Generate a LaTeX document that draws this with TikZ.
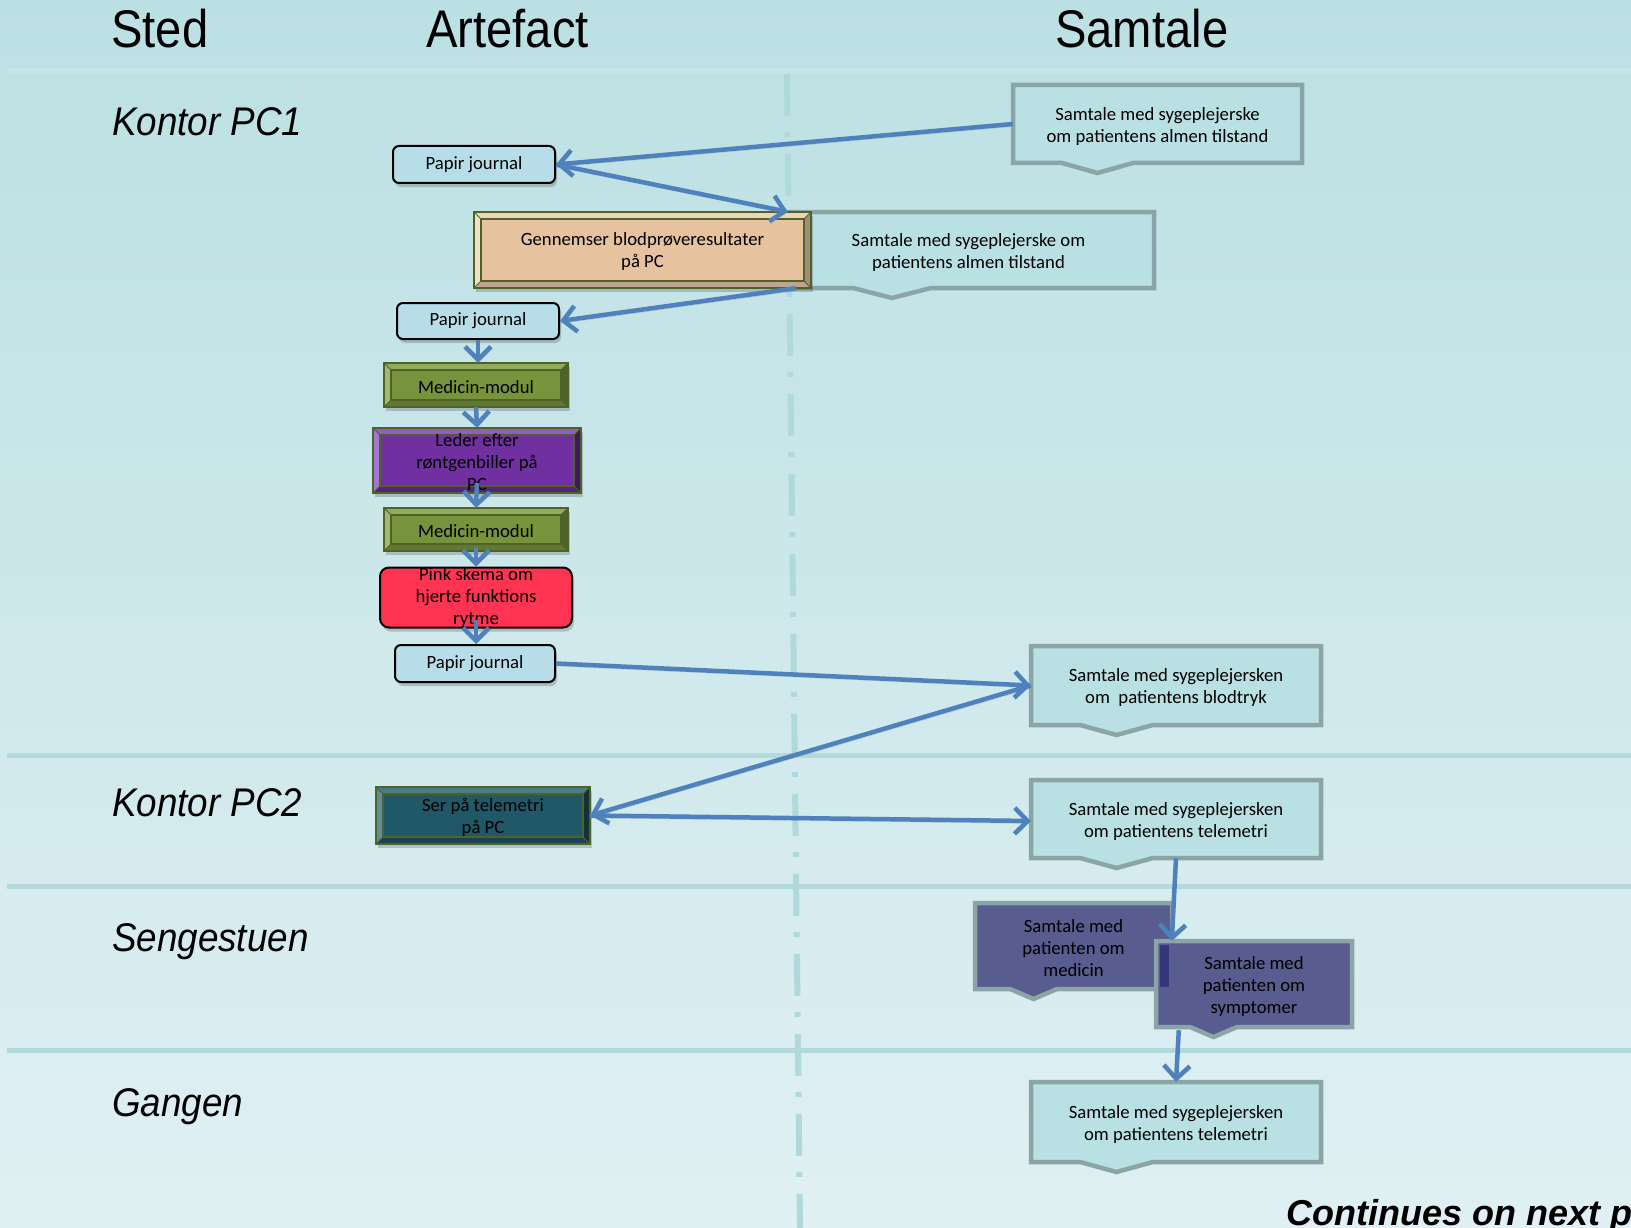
\documentclass[tikz,border=0pt]{standalone}
\usepackage{fontspec}
\setmainfont{Carlito}
\newfontfamily\hdrfont[FakeStretch=0.89]{Liberation Sans}
\newfontfamily\lanefont[FakeStretch=0.92]{Liberation Sans}
\newfontfamily\footfont{Liberation Sans}
\usetikzlibrary{arrows.meta,calc}

\definecolor{bgtop}{HTML}{BBE0E3}
\definecolor{bgbot}{HTML}{E0F0F3}
\definecolor{toplane}{HTML}{C6E5E7}
\definecolor{laneline}{HTML}{B2DADD}
\definecolor{vline}{HTML}{B0D9DC}
\definecolor{callfill}{HTML}{B9E0E3}
\definecolor{callborder}{HTML}{8BA5A6}
\definecolor{slate}{HTML}{585C8E}
\definecolor{slatedark}{HTML}{34377A}
\definecolor{pjfill}{HTML}{B7DEE8}
\definecolor{pinkfill}{HTML}{FF3352}
\definecolor{olive}{HTML}{4F6228}
\definecolor{arrowblue}{HTML}{4F81BD}
\definecolor{peach}{HTML}{E6C29F}
\definecolor{peachlight}{HTML}{F3DEC6}
\definecolor{peachdark}{HTML}{A08C7C}
\definecolor{medgreen}{HTML}{77933C}
\definecolor{medlight}{HTML}{A0B96A}
\definecolor{meddark}{HTML}{4F6228}
\definecolor{purp}{HTML}{7030A0}
\definecolor{purplight}{HTML}{A674D2}
\definecolor{purpdark}{HTML}{3E1A5A}
\definecolor{tealbox}{HTML}{215868}
\definecolor{teallight}{HTML}{5E8E9A}
\definecolor{tealdark}{HTML}{12323A}

\tikzset{
  ctext/.style={inner sep=0pt, align=center, text=black, font=\fontsize{18.7}{22}\selectfont},
  callline/.style={draw=callborder, line width=4.5pt, line join=miter},
  pjbox/.style={ctext, draw=black, line width=2pt, fill=pjfill, rounded corners=6pt,
    preaction={fill=black, opacity=.18, transform canvas={shift={(2pt,-4pt)}}}},
  pinkbox/.style={ctext, draw=black, line width=2pt, fill=pinkfill, rounded corners=9pt,
    preaction={fill=black, opacity=.18, transform canvas={shift={(2pt,-4pt)}}}},
  flow/.style={draw=arrowblue, line width=4.5pt, -{Straight Barb[length=13pt,width=26pt]},
    preaction={draw=black!45, opacity=.35, transform canvas={shift={(1pt,-2.5pt)}}}},
  hline/.style={line width=5pt},
  header/.style={anchor=base west, inner sep=0pt, font=\hdrfont\fontsize{53}{60}\selectfont},
  lane/.style={anchor=base west, inner sep=0pt, font=\lanefont\itshape\fontsize{40}{46}\selectfont},
}

% #1 name, #2 fill, #3 left, #4 top, #5 right, #6 bottom, #7 pointer start x, #8 pointer end x, #9 text
\newcommand{\mkcallout}[9]{%
  \draw[callline, fill=#2] (#3,#4) -- (#5,#4) -- (#5,#6) -- (#8,#6) -- ({(#7+#8)/2},{#6+10}) -- (#7,#6) -- (#3,#6) -- cycle;
  \node[inner sep=0pt, minimum width={#5-#3}, minimum height={#6-#4}] (#1) at ({(#3+#5)/2},{(#4+#6)/2}) {};
  \node[ctext] (#1-t) at ({(#3+#5)/2},{(#4+#6)/2+2.5}) {#9};}

% #1 name, #2 left, #3 top, #4 right, #5 bottom, #6 base, #7 light, #8 dark, #9 text
\newcommand{\mkbevel}[9]{%
  \fill[black, opacity=.18] ({#2+2},{#3+4}) rectangle ({#4+2},{#5+4});
  \fill[#6] (#2,#3) rectangle (#4,#5);
  \fill[#7!65!#6] (#2,#3) -- (#4,#3) -- ({#4-7},{#3+7}) -- ({#2+7},{#3+7}) -- cycle;
  \fill[#7] (#2,#3) -- ({#2+7},{#3+7}) -- ({#2+7},{#5-7}) -- (#2,#5) -- cycle;
  \fill[#8] (#4,#3) -- (#4,#5) -- ({#4-7},{#5-7}) -- ({#4-7},{#3+7}) -- cycle;
  \fill[#8!55!#6] (#2,#5) -- (#4,#5) -- ({#4-7},{#5-7}) -- ({#2+7},{#5-7}) -- cycle;
  \draw[olive, line width=1.3pt] ({#2+7},{#3+7}) rectangle ({#4-7},{#5-7});
  \draw[olive, line width=0.8pt] (#2,#3) -- ({#2+7},{#3+7}) (#4,#3) -- ({#4-7},{#3+7})
     (#2,#5) -- ({#2+7},{#5-7}) (#4,#5) -- ({#4-7},{#5-7});
  \draw[olive, line width=2.5pt] (#2,#3) rectangle (#4,#5);
  \node[inner sep=0pt, minimum width={#4-#2}, minimum height={#5-#3}] (#1) at ({(#2+#4)/2},{(#3+#5)/2}) {};
  \node[ctext] (#1-t) at ({(#2+#4)/2},{(#3+#5)/2+2}) {#9};}

\begin{document}
\begin{tikzpicture}[x=1pt, y=-1pt]
\useasboundingbox (0,0) rectangle (1631,1228);
\clip (0,0) rectangle (1631,1228);
\shade[top color=bgtop, bottom color=bgbot] (0,0) rectangle (1631,1228);

% lane lines
\draw[hline, toplane] (7,71) -- (1631,71);
\draw[hline, laneline] (7,755) -- (1631,755);
\draw[hline, laneline] (7,886) -- (1631,886);
\draw[hline, laneline] (7,1050) -- (1631,1050);
\draw[vline, line width=6pt, dash pattern=on 42pt off 16pt on 5pt off 17pt] (787,74) -- (800,1228);

% headers
\node[header] (hsted) at (111,48) {Sted};
\node[header] (hart) at (426,48) {Artefact};
\node[header] (hsam) at (1055,48) {Samtale};

% lanes
\node[lane] (lpc1) at (112,136) {Kontor PC1};
\node[lane] (lpc2) at (112,816) {Kontor PC2};
\node[lane] (lseng) at (112,951) {Sengestuen};
\node[lane] (lgang) at (112,1116) {Gangen};

% callouts
\mkcallout{cA}{callfill}{1013}{85}{1302}{163}{1062}{1133}{Samtale med sygeplejerske\\om patientens almen tilstand}
\mkcallout{cB}{callfill}{783}{212}{1154}{288}{853}{931}{Samtale med sygeplejerske om\\patientens almen tilstand}
\mkcallout{cC}{callfill}{1031}{646}{1321}{725}{1080}{1153}{Samtale med sygeplejersken\\om\ \ patientens blodtryk}
\mkcallout{cD}{callfill}{1031}{780}{1321}{858}{1080}{1153}{Samtale med sygeplejersken\\om patientens telemetri}
\mkcallout{cE}{slate}{975}{903}{1172}{989}{1010}{1057}{Samtale med\\patienten om\\medicin}
\mkcallout{cF}{slate}{1156}{941}{1352}{1027}{1190}{1237}{}
\fill[slatedark] (1160,945) rectangle (1169,987);
\node[ctext] (cFtext) at ([yshift=-2.5pt]cF.center) {Samtale med\\patienten om\\symptomer};
\mkcallout{cG}{callfill}{1031}{1082}{1321}{1162}{1080}{1153}{Samtale med sygeplejersken\\om patientens telemetri}

% artefacts
\node[pjbox, minimum width=162, minimum height=37] (pj1) at (474,164.5) {Papir journal};
\mkbevel{gen}{474}{212}{811}{288}{peach}{peachlight}{peachdark}{Gennemser blodprøveresultater\\på PC}
\node[pjbox, minimum width=162, minimum height=36] (pj2) at (478,321) {Papir journal};
\mkbevel{med1}{384}{363}{568}{407}{medgreen}{medlight}{meddark}{Medicin-modul}
\mkbevel{leder}{373}{428}{581}{493}{purp}{purplight}{purpdark}{Leder efter\\røntgenbiller på\\PC}
\mkbevel{med2}{384}{508}{568}{551}{medgreen}{medlight}{meddark}{Medicin-modul}
\node[pinkbox, minimum width=192, minimum height=57] (pink) at (476,597.5) {Pink skema om\\hjerte funktions\\rytme};
\node[pjbox, minimum width=160, minimum height=37] (pj3) at (475,663.5) {Papir journal};
\mkbevel{ser}{376}{787}{590}{844}{tealbox}{teallight}{tealdark}{Ser på telemetri\\på PC}

% connectors
\draw[flow] (cA.west) -- (pj1.east);
\draw[flow] (pj1.east) -- ([xshift=5pt]cB.north west);
\draw[flow] ([xshift=13pt]cB.south west) -- (pj2.east);
\draw[flow] (pj2.south) -- (pj2.south |- med1.north);
\draw[flow] (med1.south) -- (leder.north);
\draw[flow] ([yshift=10pt]leder.south) -- (med2.north);
\draw[flow] ([yshift=4pt]med2.south) -- (pink.north);
\draw[flow] ([yshift=9pt]pink.south) -- (pink.south |- pj3.north);
\draw[flow] (pj3.east) -- (cC.west);
\draw[flow] (cC.west) -- (ser.east);
\draw[flow] (ser.east) -- ([yshift=-2pt]cD.west);
\draw[flow] (cD.south) -- ([xshift=16pt]cF.north west);
\draw[flow] ([xshift=23pt,yshift=-3pt]cF.south west) -- (cG.north);

% footer
\node[anchor=base west, inner sep=0pt, font=\footfont\bfseries\itshape\fontsize{36}{40}\selectfont] (cont) at (1286,1225) {Continues on next page};
\end{tikzpicture}
\end{document}
